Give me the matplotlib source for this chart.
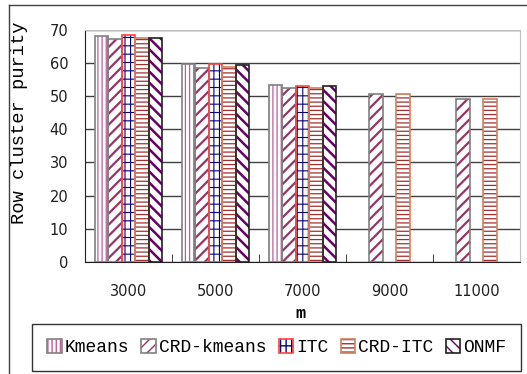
import numpy as np
import matplotlib.pyplot as plt
from matplotlib.patches import Patch
from matplotlib.lines import Line2D

# row cluster purity for each method against m
m_labels = ['3000', '5000', '7000', '9000', '11000']
methods = ['Kmeans', 'CRD-kmeans', 'ITC', 'CRD-ITC', 'ONMF']
kmeans = [67.9, 59.5, 53.2, np.nan, np.nan]
crd_kmeans = [67.2, 58.5, 52.5, 50.6, 49.0]
itc = [68.2, 59.5, 53.0, np.nan, np.nan]
crd_itc = [67.3, 58.6, 52.5, 50.6, 49.0]
onmf = [67.5, 59.4, 53.0, np.nan, np.nan]
values = [kmeans, crd_kmeans, itc, crd_itc, onmf]

# hatch layers (pattern, line width), hatch colour, outline colour
styles = [
    ([('||||', 0.9)], '#b8609a', '#808080'),
    ([('///', 1.6)], '#993366', '#808080'),
    ([('|||', 0.8), ('--', 0.8)], '#000080', '#ff4040'),
    ([('----', 0.9)], '#a03030', '#d08060'),
    ([('\\\\\\', 1.8)], '#660066', '#202020'),
]

mono = 'Liberation Mono'


def hatched(p, lw):
    try:
        p.set_hatch_linewidth(lw)
    except AttributeError:
        pass
    return p


fig = plt.figure(figsize=(5.27, 3.74), dpi=100)
ax = fig.add_axes([85/527, 1-262/374, 435/527, 232.5/374])

x = np.arange(len(m_labels))
w = 0.154
handles = []
for i, (vals, (layers, hc, ec)) in enumerate(zip(values, styles)):
    pos = x + (i - 2) * w
    ax.bar(pos, vals, w, facecolor='white', linewidth=0, zorder=2.9)
    hnd = [Patch(facecolor='white', linewidth=0)]
    for h, lw in layers:
        with plt.rc_context({'hatch.linewidth': lw}):
            bars = ax.bar(pos, vals, w, facecolor='none', edgecolor=hc, hatch=h,
                          linewidth=0, zorder=3)
            for b in bars:
                hatched(b, lw)
            hnd.append(hatched(Patch(facecolor='none', edgecolor=hc, hatch=h, linewidth=0), lw))
    ax.bar(pos, vals, w, facecolor='none', edgecolor=ec, linewidth=1.2, zorder=4)
    hnd.append(Patch(facecolor='none', edgecolor=ec, linewidth=1.2))
    handles.append(tuple(hnd))

ax.set_xlim(-0.5, 4.5)
ax.set_ylim(0, 70)
ax.set_yticks(range(0, 71, 10))
ax.yaxis.grid(True, color='#404040', linewidth=1)
ax.set_axisbelow(True)
ax.set_xticks(x)
ax.set_xticklabels(m_labels)
ax.set_xticks(np.arange(0.5, 4, 1), minor=True)
ax.tick_params(axis='x', which='major', length=0, pad=16, labelsize=10.5, colors='#202020')
ax.tick_params(axis='x', which='minor', direction='in', length=6, color='#202020')
ax.tick_params(axis='y', length=0, pad=12, labelsize=10.5, colors='#202020')
for s in ['top', 'right']:
    ax.spines[s].set_color('#c0c0c0')
for s in ['left', 'bottom']:
    ax.spines[s].set_color('#202020')

ax.set_ylabel('Row cluster purity', fontfamily=mono, fontsize=13.5)
ax.yaxis.set_label_coords(-0.131, 0.60)

fig.text(300/527, 1-313/374, 'm', ha='center', va='center',
         fontfamily=mono, fontweight='bold', fontsize=12)

leg = fig.legend(handles, methods, loc='center', bbox_to_anchor=(276.5/527, 1-347.5/374),
                 ncol=5, prop={'family': mono, 'size': 13}, frameon=True, fancybox=False,
                 handlelength=0.8, handleheight=0.8, handletextpad=0.15, columnspacing=0.7,
                 borderpad=0.85, borderaxespad=0)
leg.get_frame().set_edgecolor('black')
leg.get_frame().set_linewidth(1)

# chart area border
fig.add_artist(Line2D([9/527, 9/527], [0, 1-5/374], color='#404040', linewidth=1))
fig.add_artist(Line2D([9/527, 1], [1-5/374, 1-5/374], color='#404040', linewidth=1))

fig.savefig('out.png', dpi=100)
